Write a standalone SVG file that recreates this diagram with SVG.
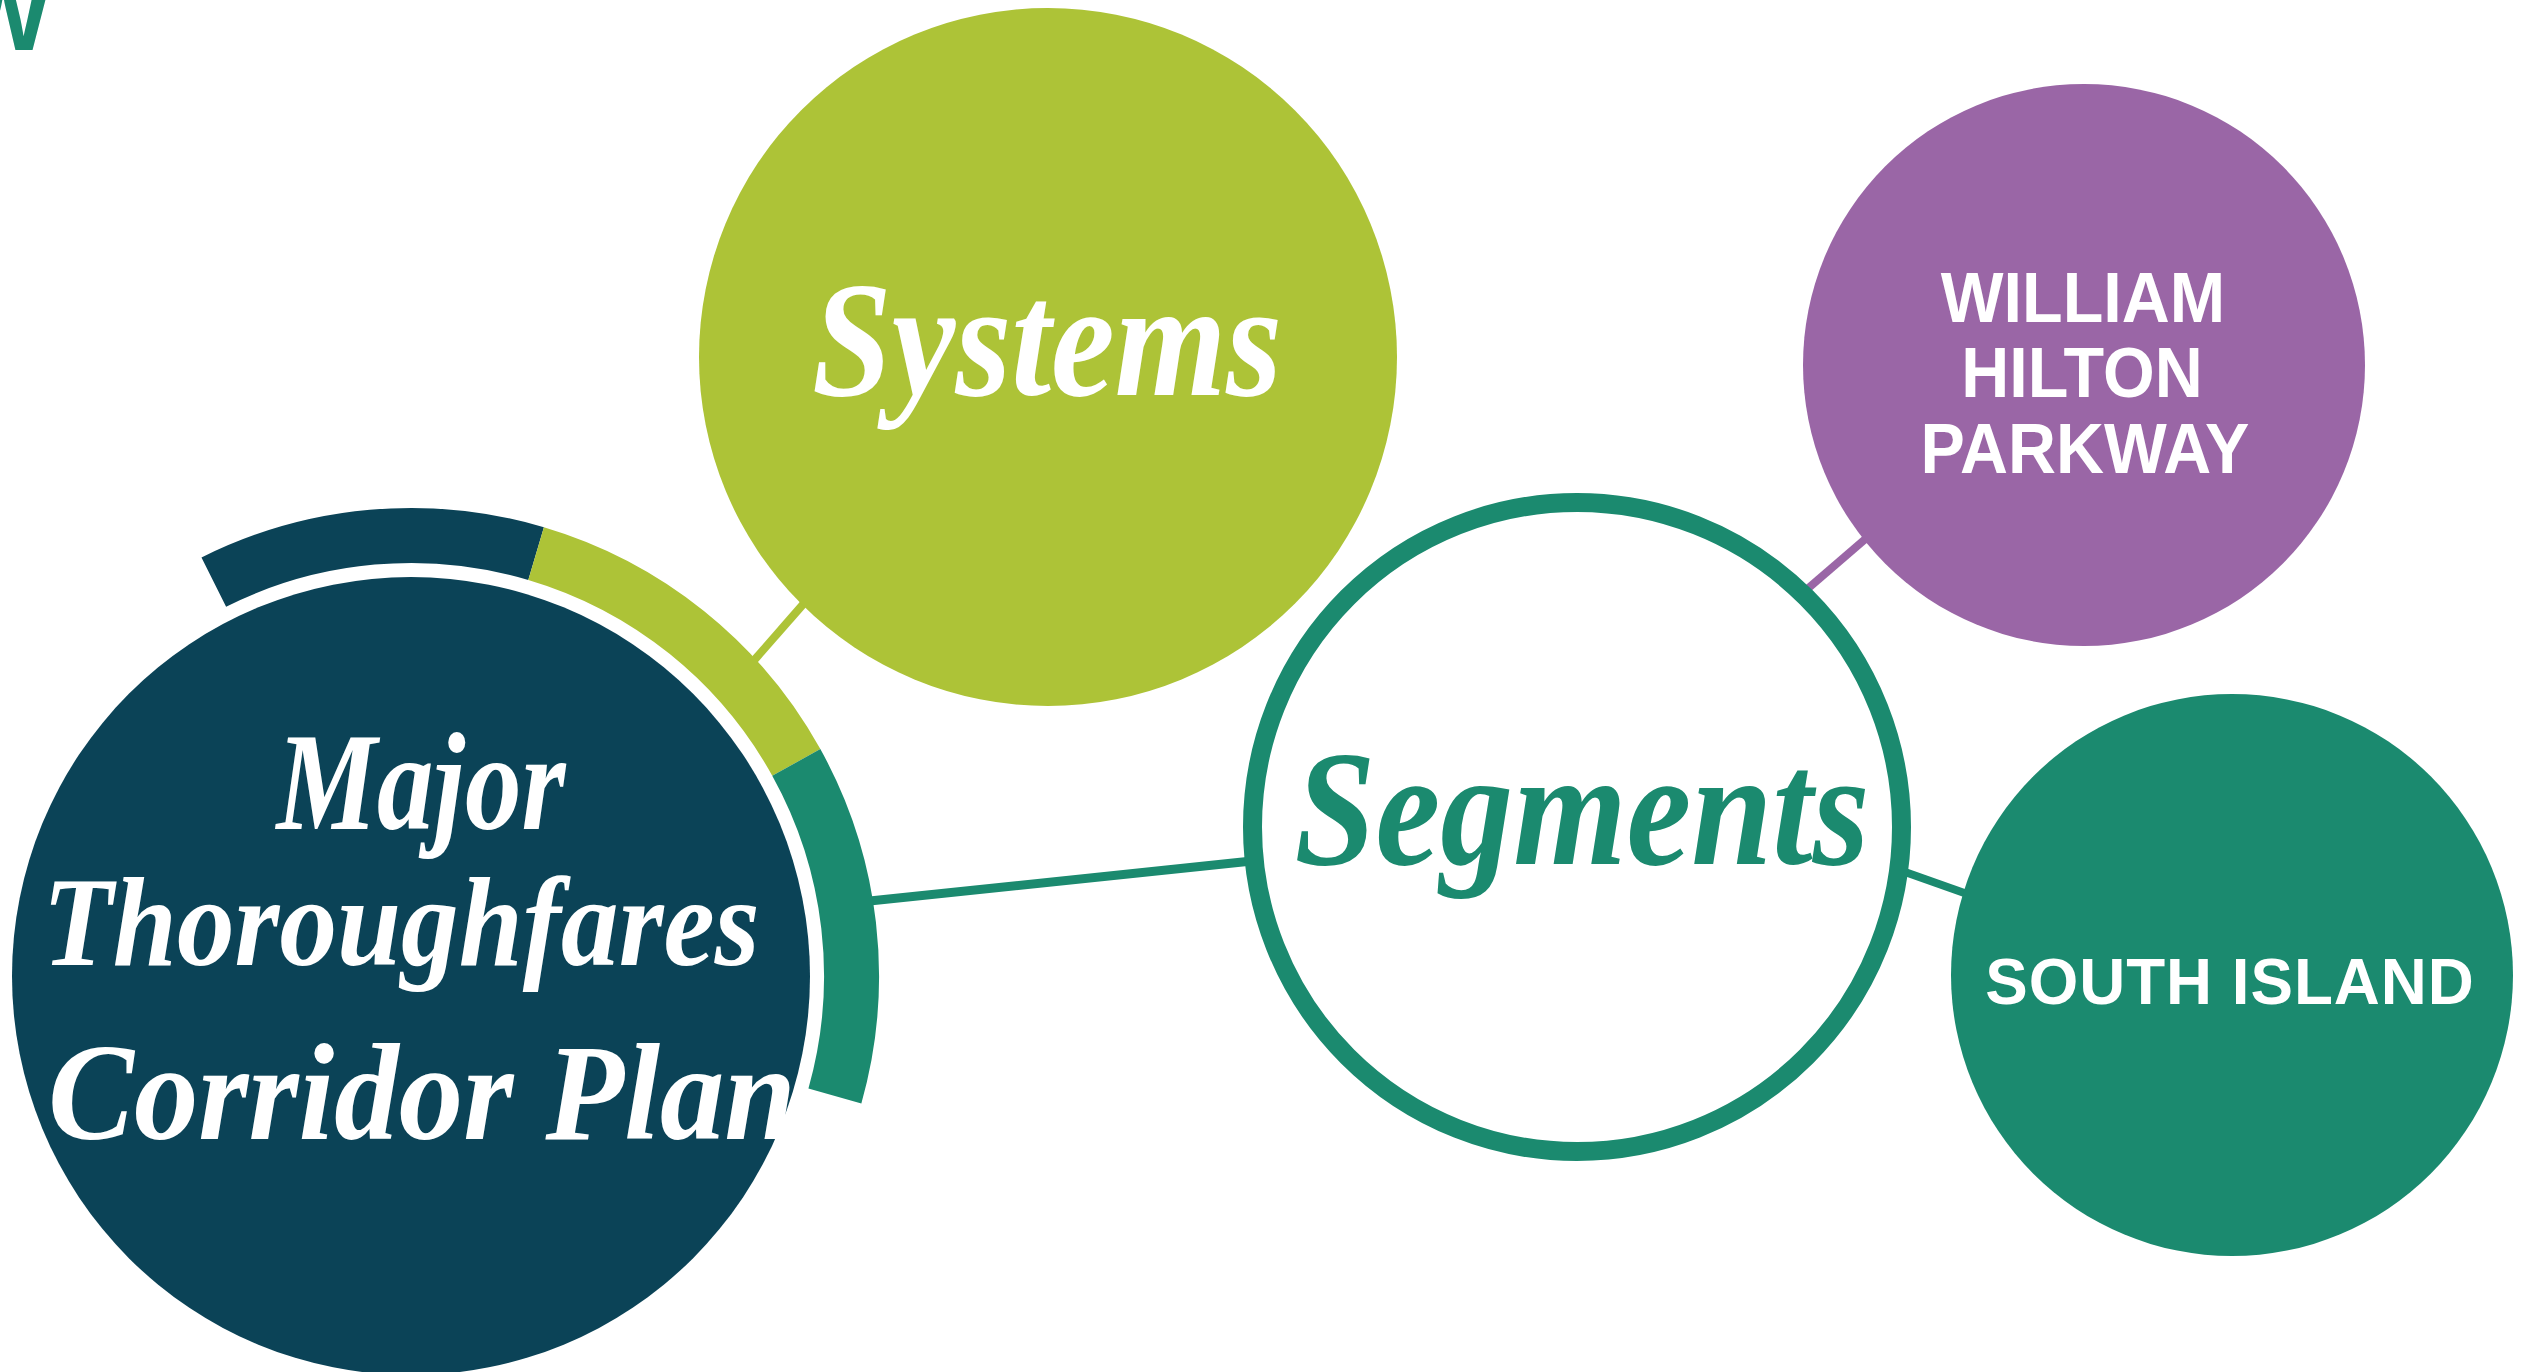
<svg xmlns="http://www.w3.org/2000/svg" width="2523" height="1372" viewBox="0 0 2523 1372">
<style>
.script{font-family:'Liberation Serif','DejaVu Serif',cursive;font-style:italic;font-weight:bold;text-anchor:middle;}
.label{font-family:'Liberation Sans',Arial,sans-serif;font-weight:bold;fill:#ffffff;text-anchor:middle;}
.conn{fill:none;stroke-linecap:butt;}
</style>
<rect width="2523" height="1372" fill="#ffffff"/>
<text x="-44" y="50" font-family="'Liberation Sans',Arial,sans-serif" font-weight="bold" font-size="100" fill="#1B8A6F">W</text>
<g id="connectors">
<line class="conn" x1="750" y1="665" x2="806" y2="601" stroke="#ADC337" stroke-width="8"/>
<line class="conn" x1="860" y1="902" x2="1252" y2="861" stroke="#1B8A6F" stroke-width="9"/>
<line class="conn" x1="1805" y1="591" x2="1870" y2="535" stroke="#9A66A6" stroke-width="8"/>
<line class="conn" x1="1905" y1="872" x2="1970" y2="895" stroke="#1B8A6F" stroke-width="8"/>
</g>
<g id="systems">
<circle cx="1048" cy="357" r="349" fill="#ADC337"/>
<text class="script" x="1047" y="395" font-size="165" fill="#ffffff" textLength="470" lengthAdjust="spacingAndGlyphs">Systems</text>
</g>
<g id="major-thoroughfares">
<path d="M213.8 582.1 A440.5 440.5 0 0 1 536.1 553.6" fill="none" stroke="#0B4357" stroke-width="55"/>
<path d="M536.1 553.6 A440.5 440.5 0 0 1 796.3 762.4" fill="none" stroke="#ADC337" stroke-width="55"/>
<path d="M796.3 762.4 A440.5 440.5 0 0 1 834.9 1095.9" fill="none" stroke="#1B8A6F" stroke-width="55"/>
<circle cx="411" cy="976" r="399" fill="#0B4357"/>
<text class="script" x="421" y="829" font-size="140" fill="#ffffff" textLength="289" lengthAdjust="spacingAndGlyphs">Major</text>
<text class="script" x="401" y="965" font-size="128" fill="#ffffff" textLength="717" lengthAdjust="spacingAndGlyphs">Thoroughfares</text>
<text class="script" x="422" y="1139" font-size="138" fill="#ffffff" textLength="748" lengthAdjust="spacingAndGlyphs">Corridor Plan</text>
</g>
<g id="segments">
<circle cx="1577" cy="827" r="324.5" fill="#ffffff" stroke="#1B8A6F" stroke-width="19"/>
<text class="script" x="1582" y="864" font-size="165" fill="#1B8A6F" textLength="575" lengthAdjust="spacingAndGlyphs">Segments</text>
</g>
<g id="william-hilton-parkway">
<circle cx="2084" cy="365" r="281" fill="#9A66A6"/>
<text class="label" font-size="70" transform="translate(2083 322) scale(0.95 1)">WILLIAM</text>
<text class="label" font-size="70" transform="translate(2082 397) scale(0.95 1)">HILTON</text>
<text class="label" font-size="70" transform="translate(2085 473) scale(0.95 1)">PARKWAY</text>
</g>
<g id="south-island">
<circle cx="2232" cy="975" r="281" fill="#1B8A6F"/>
<text class="label" font-size="65" letter-spacing="1" transform="translate(2230 1004) scale(0.98 1)">SOUTH ISLAND</text>
</g>
</svg>
